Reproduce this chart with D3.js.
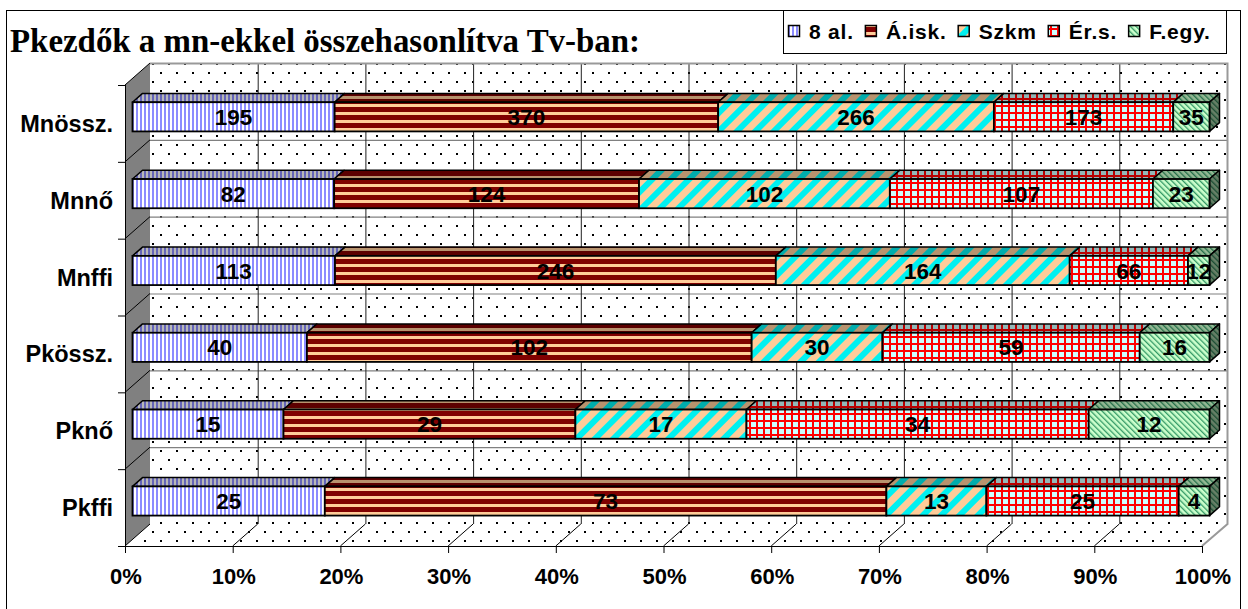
<!DOCTYPE html>
<meta charset="utf-8">
<style>
  body { margin: 0; background: #fff; }
  text { font-family: "Liberation Sans", Arial, sans-serif; font-weight: bold; fill: #000; }
  .title { font-family: "Liberation Serif", "Times New Roman", serif; }
</style>
<body>
<div id="chart"></div>
<script src="https://d3js.org/d3.v7.min.js"></script>
<script>
  // categories, top to bottom
  var categories = ["Mnössz.", "Mnnő", "Mnffi", "Pkössz.", "Pknő", "Pkffi"];
  var seriesNames = ["8 al.", "Á.isk.", "Szkm", "Ér.s.", "F.egy."];
  var al8  = [195, 82, 113, 40, 15, 25];
  var aisk = [370, 124, 246, 102, 29, 73];
  var szkm = [266, 102, 164, 30, 17, 13];
  var ers  = [173, 107, 66, 59, 34, 25];
  var fegy = [35, 23, 12, 16, 12, 4];
  var tickValues = [0, 0.1, 0.2, 0.3, 0.4, 0.5, 0.6, 0.7, 0.8, 0.9, 1];
  var tickLabels = ["0%", "10%", "20%", "30%", "40%", "50%", "60%", "70%", "80%", "90%", "100%"];

  var seriesData = [al8, aisk, szkm, ers, fegy];
  var patternIds = ["p8al", "pAisk", "pSzkm", "pErs", "pFegy"];

  var table = categories.map(function (c, i) {
    var row = { cat: c };
    seriesNames.forEach(function (s, j) { row[s] = seriesData[j][i]; });
    return row;
  });

  var width = 1248, height = 609;
  // 3d depth of the plot box, and where the bars sit in it
  var DX = 25, DY = -22, f0 = 0.3, f1 = 0.7;

  var svg = d3.select("#chart").append("svg")
    .attr("width", width).attr("height", height);

  var defs = svg.append("defs");

  function pat(id, w, h, bg, transform) {
    var p = defs.append("pattern").attr("id", id)
      .attr("patternUnits", "userSpaceOnUse")
      .attr("width", w).attr("height", h);
    if (transform) p.attr("patternTransform", transform);
    p.append("rect").attr("width", w).attr("height", h).attr("fill", bg);
    return p;
  }

  // dotted walls
  var pd = pat("pDots", 16, 18, "#fff");
  pd.append("rect").attr("x", 0).attr("y", 0).attr("width", 2).attr("height", 2).attr("fill", "#000");
  pd.append("rect").attr("x", 8).attr("y", 9).attr("width", 2).attr("height", 2).attr("fill", "#000");

  // 8 al. vertical stripes
  pat("p8al", 4, 4, "#fff").append("rect").attr("width", 2).attr("height", 4).attr("fill", "#8C8CFF");
  // Á.isk. horizontal stripes
  pat("pAisk", 8, 8, "#FFCC99").append("rect").attr("y", 3).attr("width", 8).attr("height", 5).attr("fill", "#800000");
  // Szkm diagonal stripes
  pat("pSzkm", 13, 13, "#FFCC99", "rotate(45)").append("rect").attr("width", 6).attr("height", 13).attr("fill", "#00F0F0");
  // Ér.s. grid
  var pe = pat("pErs", 7, 7, "#CCFFFF");
  pe.append("rect").attr("width", 2).attr("height", 7).attr("fill", "#FF0000");
  pe.append("rect").attr("width", 7).attr("height", 2).attr("fill", "#FF0000");
  // F.egy. fine hatch
  pat("pFegy", 4, 4, "#CCFFCC", "rotate(-45)").append("rect").attr("width", 1.3).attr("height", 4).attr("fill", "#339966");

  // outer frame
  svg.append("rect").attr("x", 6.5).attr("y", 10.5).attr("width", 1234).attr("height", 620)
    .attr("fill", "none").attr("stroke", "#000").attr("stroke-width", 1);

  svg.append("text").attr("class", "title")
    .attr("x", 10).attr("y", 52)
    .attr("font-size", 33)
    .attr("textLength", 630).attr("lengthAdjust", "spacingAndGlyphs")
    .text("Pkezdők a mn-ekkel összehasonlítva Tv-ban:");

  var x = d3.scaleLinear().domain([0, 1]).range([125, 1202]);
  var y = d3.scaleBand().domain(categories).range([85, 546])
    .paddingInner(0.62).paddingOuter(0.31);

  var x0 = x(0), x1 = x(1), yTop = 85, yBot = 546;
  function pt(px, py) { return px + "," + py; }

  // back wall
  svg.append("rect").attr("x", x0 + DX).attr("y", yTop + DY)
    .attr("width", x1 - x0).attr("height", yBot - yTop)
    .attr("fill", "url(#pDots)");
  // floor
  svg.append("polygon")
    .attr("points", [pt(x0, yBot), pt(x0 + DX, yBot + DY), pt(x1 + DX, yBot + DY), pt(x1, yBot)].join(" "))
    .attr("fill", "url(#pDots)");
  // left wall
  svg.append("polygon")
    .attr("points", [pt(x0, yTop), pt(x0 + DX, yTop + DY), pt(x0 + DX, yBot + DY), pt(x0, yBot)].join(" "))
    .attr("fill", "#808080");

  // category boundaries on back wall and left wall
  var step = y.step();
  var bounds = d3.range(categories.length + 1).map(function (i) { return yTop + i * step; });
  svg.selectAll(".hgrid").data(bounds.slice(1, -1)).enter().append("line")
    .attr("x1", x0 + DX).attr("x2", x1 + DX)
    .attr("y1", function (d) { return d + DY + 0.5; }).attr("y2", function (d) { return d + DY + 0.5; })
    .attr("stroke", "#808080").attr("stroke-width", 1.2);
  svg.selectAll(".ldiag").data(bounds).enter().append("line")
    .attr("x1", x0).attr("y1", function (d) { return d; })
    .attr("x2", x0 + DX).attr("y2", function (d) { return d + DY; })
    .attr("stroke", "#000").attr("stroke-width", 1);
  svg.selectAll(".ytick").data(bounds).enter().append("line")
    .attr("x1", x0 - 7).attr("x2", x0)
    .attr("y1", function (d) { return d + 0.5; }).attr("y2", function (d) { return d + 0.5; })
    .attr("stroke", "#000");

  // vertical gridlines on back wall + floor diagonals
  var inner = tickValues.slice(1, -1);
  svg.selectAll(".vgrid").data(inner).enter().append("line")
    .attr("x1", function (d) { return x(d) + DX + 0.5; }).attr("x2", function (d) { return x(d) + DX + 0.5; })
    .attr("y1", yTop + DY).attr("y2", yBot + DY)
    .attr("stroke", "#222").attr("stroke-width", 1);
  svg.selectAll(".fdiag").data(inner).enter().append("line")
    .attr("x1", function (d) { return x(d); }).attr("y1", yBot)
    .attr("x2", function (d) { return x(d) + DX; }).attr("y2", yBot + DY)
    .attr("stroke", "#000").attr("stroke-width", 1);

  // gray edges of the box
  svg.append("polyline")
    .attr("points", [pt(x0 + DX, yTop + DY + 0.5), pt(x1 + DX + 0.5, yTop + DY + 0.5), pt(x1 + DX + 0.5, yBot + DY), pt(x1, yBot)].join(" "))
    .attr("fill", "none").attr("stroke", "#999").attr("stroke-width", 2);
  // axes lines
  svg.append("line").attr("x1", x0 + 0.5).attr("x2", x0 + 0.5).attr("y1", yTop).attr("y2", yBot)
    .attr("stroke", "#000");
  svg.append("line").attr("x1", x0).attr("x2", x1).attr("y1", yBot + 0.5).attr("y2", yBot + 0.5)
    .attr("stroke", "#000");
  svg.selectAll(".xtick").data(tickValues).enter().append("line")
    .attr("x1", function (d) { return x(d) + 0.5; }).attr("x2", function (d) { return x(d) + 0.5; })
    .attr("y1", yBot).attr("y2", yBot + 7)
    .attr("stroke", "#000");
  svg.selectAll(".xlab").data(tickValues).enter().append("text")
    .attr("x", function (d) { return x(d) + 1; }).attr("y", 584)
    .attr("text-anchor", "middle").attr("font-size", 22)
    .text(function (d, i) { return tickLabels[i]; });

  // category labels
  svg.selectAll(".ylab").data(categories).enter().append("text")
    .attr("x", 113).attr("y", function (d) { return y(d) + y.bandwidth() / 2; })
    .attr("dy", "0.36em")
    .attr("text-anchor", "end").attr("font-size", 23.5)
    .text(function (d) { return d; });

  // bars
  var stack = d3.stack().keys(seriesNames).offset(d3.stackOffsetExpand)(table);
  var bw = y.bandwidth();
  var fdx = f0 * DX, fdy = f0 * DY, bdx = (f1 - f0) * DX, bdy = (f1 - f0) * DY;
  var bars = svg.append("g");

  categories.forEach(function (cat, ci) {
    var Y0 = y(cat) + fdy, Y1 = Y0 + bw;
    stack.forEach(function (layer, si) {
      var seg = layer[ci];
      var X0 = x(seg[0]) + fdx, X1 = x(seg[1]) + fdx;
      var fill = "url(#" + patternIds[si] + ")";
      var topPts = [pt(X0, Y0), pt(X0 + bdx, Y0 + bdy), pt(X1 + bdx, Y0 + bdy), pt(X1, Y0)].join(" ");
      bars.append("polygon").attr("points", topPts).attr("fill", fill);
      bars.append("polygon").attr("points", topPts).attr("fill", "#000").attr("fill-opacity", 0.28)
        .attr("stroke", "#000").attr("stroke-width", 1.5).attr("stroke-linejoin", "round");
      if (si === stack.length - 1) {
        var sidePts = [pt(X1, Y0), pt(X1 + bdx, Y0 + bdy), pt(X1 + bdx, Y1 + bdy), pt(X1, Y1)].join(" ");
        bars.append("polygon").attr("points", sidePts).attr("fill", fill);
        bars.append("polygon").attr("points", sidePts).attr("fill", "#000").attr("fill-opacity", 0.5)
          .attr("stroke", "#000").attr("stroke-width", 1.5).attr("stroke-linejoin", "round");
      }
      bars.append("rect").attr("x", X0).attr("y", Y0).attr("width", X1 - X0).attr("height", bw)
        .attr("fill", fill).attr("stroke", "#000").attr("stroke-width", 1.8);
    });
  });

  // data labels
  categories.forEach(function (cat, ci) {
    var cy = y(cat) + fdy + bw / 2;
    stack.forEach(function (layer, si) {
      var seg = layer[ci];
      bars.append("text")
        .attr("x", (x(seg[0]) + x(seg[1])) / 2 + fdx)
        .attr("y", cy).attr("dy", "0.36em")
        .attr("text-anchor", "middle").attr("font-size", 22.5)
        .text(seriesData[si][ci]);
    });
  });

  // legend
  var lg = svg.append("g");
  lg.append("rect").attr("x", 783.5).attr("y", 10.5).attr("width", 443).attr("height", 43)
    .attr("fill", "#fff").attr("stroke", "#000");
  var lx = 788;
  seriesNames.forEach(function (s, i) {
    lg.append("rect").attr("x", lx + 0.5).attr("y", 25.5).attr("width", 11).attr("height", 11)
      .attr("fill", "url(#" + patternIds[i] + ")").attr("stroke", "#000").attr("stroke-width", 1.5);
    var t = lg.append("text").attr("x", lx + 21).attr("y", 38.5)
      .attr("font-size", 21).attr("letter-spacing", 0.8).text(s);
    lx = lx + 21 + t.node().getComputedTextLength() + 11;
  });
</script>
</body>
